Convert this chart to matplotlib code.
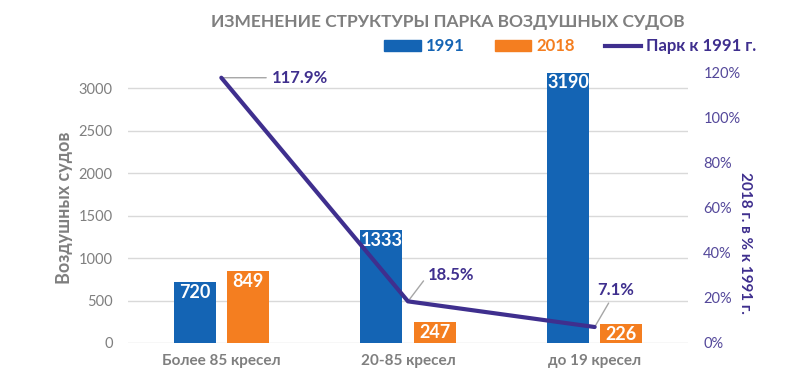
import matplotlib.pyplot as plt
from matplotlib.lines import Line2D
from matplotlib.patches import Patch
import numpy as np

plt.rcParams['font.family'] = ['Lato', 'DejaVu Sans']

# data
categories = ['Более 85 кресел', '20-85 кресел', 'до 19 кресел']
fleet_1991 = [720, 1333, 3190]
fleet_2018 = [849, 247, 226]
share_pct = [117.9, 18.5, 7.1]

BLUE = '#1464B4'
ORANGE = '#F47E20'
PURPLE = '#3F2F8E'
GRAY = '#7F7F7F'

fig = plt.figure(figsize=(8, 3.91), dpi=100)
ax = fig.add_axes([0.16, 0.1228, 0.70, 0.6905])
ax2 = ax.twinx()

x = np.arange(len(categories))
w = 0.225
off = 0.142
b1 = ax.bar(x - off, fleet_1991, w, color=BLUE, zorder=2)
b2 = ax.bar(x + off, fleet_2018, w, color=ORANGE, zorder=2)

for bars in (b1, b2):
    for r in bars:
        ax.text(r.get_x() + r.get_width() / 2, r.get_height() - 25,
                f'{int(r.get_height())}', ha='center', va='top',
                color='white', fontsize=13, fontweight='bold', zorder=3)

ax.set_xlim(-0.5, 2.5)
ax.set_ylim(0, 3180)
ax.set_yticks(range(0, 3001, 500))
ax.yaxis.grid(True, color='#D9D9D9', lw=1)
ax.set_axisbelow(True)
ax.set_xticks(x)
ax.set_xticklabels(categories, fontsize=11, fontweight='bold', color=GRAY)
ax.tick_params(axis='y', length=0, pad=11, labelsize=10.5, labelcolor=GRAY)
ax.tick_params(axis='x', length=0, pad=8)
for s in ax.spines.values():
    s.set_visible(False)
ax.set_ylabel('Воздушных судов', fontsize=13, fontweight='bold', color=GRAY)
ax.yaxis.set_label_coords(-0.098, 0.5)

# line on secondary axis
ax2.plot(x, np.array(share_pct) / 100, color=PURPLE, lw=3, zorder=4, solid_capstyle='round')
ax2.set_ylim(0, 1.2)
ax2.set_yticks(np.arange(0, 1.21, 0.2))
ax2.set_yticklabels([f'{int(round(v * 100))}%' for v in np.arange(0, 1.21, 0.2)])
ax2.tick_params(axis='y', length=0, pad=11, labelsize=10.5, labelcolor='#54489A')
for s in ax2.spines.values():
    s.set_visible(False)
ax2.set_ylabel('2018 г. в % к 1991 г.', fontsize=11, fontweight='bold', color=PURPLE,
               rotation=-90, va='center')
ax2.yaxis.set_label_coords(1.102, 0.37)

label_offsets = [(0.27, 0.0), (0.107, 0.117), (0.012, 0.165)]
rel = [(0, 0.5), (0, 0.5), (0.4, 0)]
for xi, v, (dx, dy), rp in zip(x, share_pct, label_offsets, rel):
    y = v / 100
    ax2.annotate(f'{v}%', xy=(xi, y), xytext=(xi + dx, y + dy),
                 fontsize=12, fontweight='bold', color=PURPLE, va='center', ha='left',
                 arrowprops=dict(arrowstyle='-', color='#A6A6A6', lw=1, relpos=rp,
                                 shrinkA=2, shrinkB=0))

fig.text(0.56, 0.945, 'ИЗМЕНЕНИЕ СТРУКТУРЫ ПАРКА ВОЗДУШНЫХ СУДОВ',
         ha='center', va='center', fontsize=12.5, fontweight='bold', color=GRAY)

handles = [Patch(color=BLUE), Patch(color=ORANGE), Line2D([], [], color=PURPLE, lw=3)]
leg = fig.legend(handles, ['1991', '2018', 'Парк к 1991 г.'], loc='center',
                 bbox_to_anchor=(0.713, 0.882), ncol=3, frameon=False,
                 handlelength=2.2, handleheight=0.6, columnspacing=1.8,
                 handletextpad=0.3, prop={'size': 12, 'weight': 'bold'})
for t, c in zip(leg.get_texts(), [BLUE, ORANGE, PURPLE]):
    t.set_color(c)

fig.savefig('out.png', dpi=100)
